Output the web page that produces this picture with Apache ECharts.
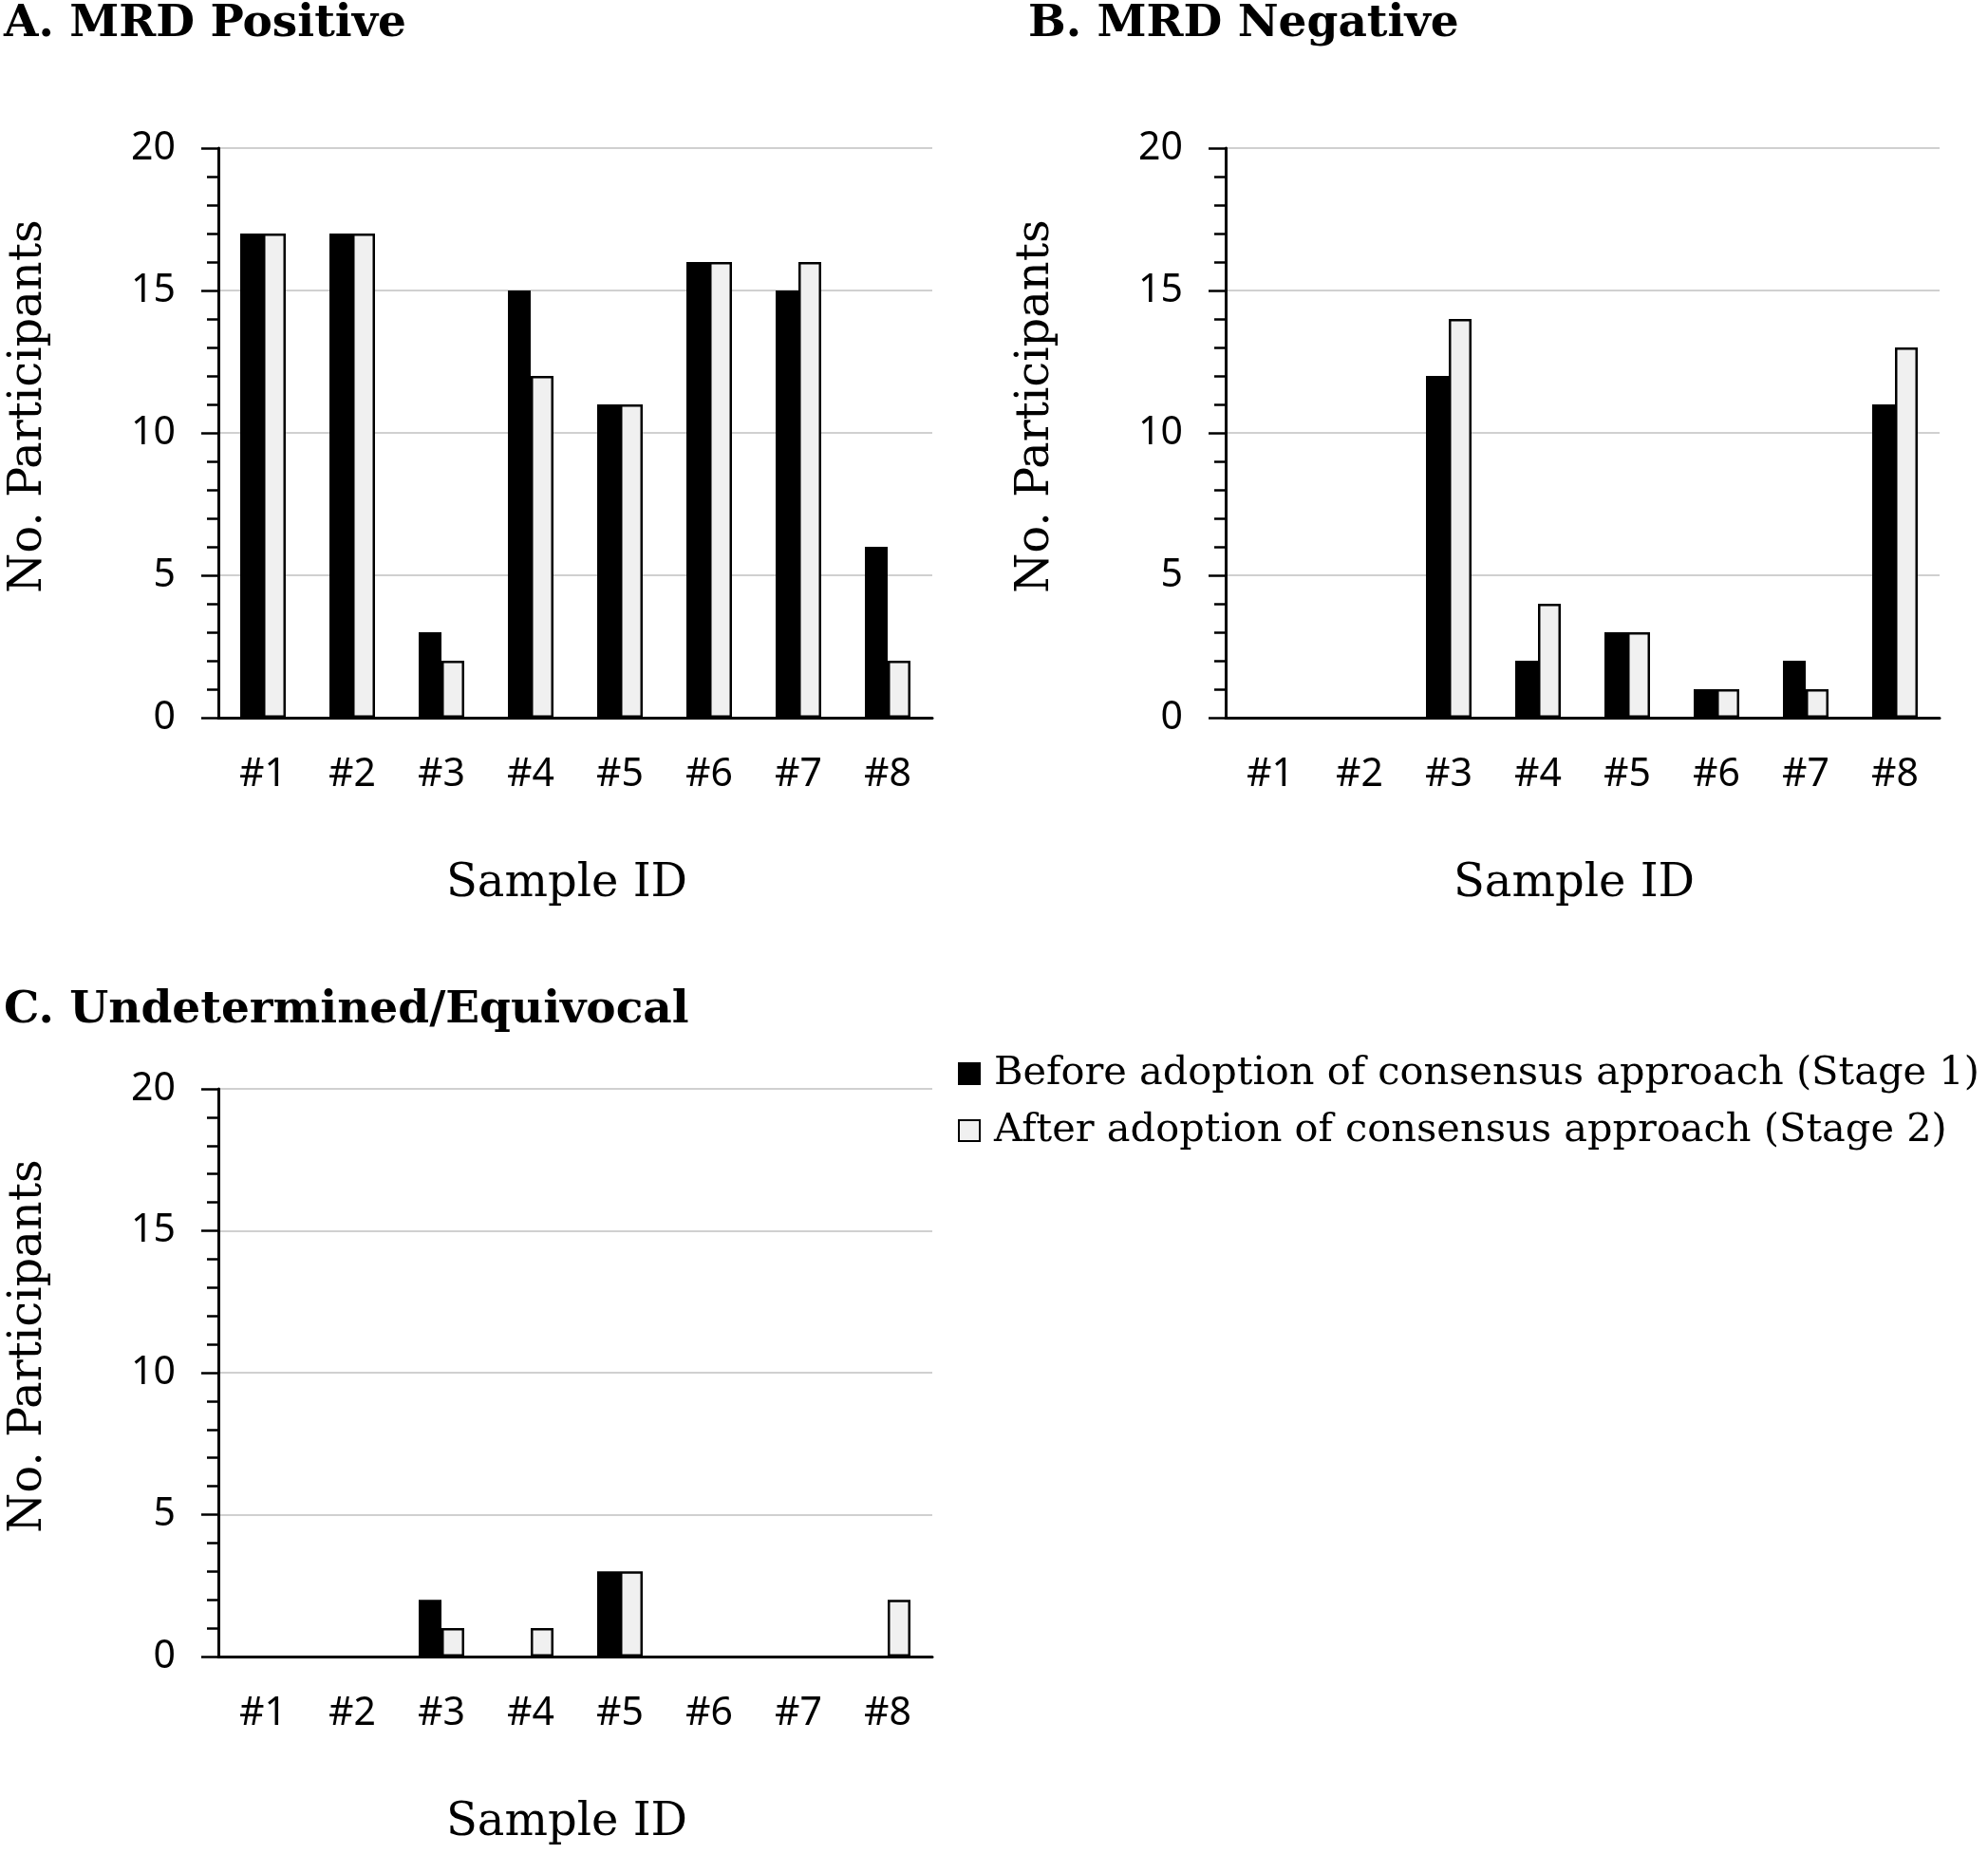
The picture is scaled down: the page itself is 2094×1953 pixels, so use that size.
<!DOCTYPE html>
<html>
<head>
<meta charset="utf-8">
<script src="https://cdn.jsdelivr.net/npm/echarts@6/dist/echarts.min.js"></script>
<style>html,body{margin:0;padding:0;background:#fff;}#chart{width:2094px;height:1953px;}</style>
</head>
<body>
<div id="chart"></div>
<script>
const categories = ['#1', '#2', '#3', '#4', '#5', '#6', '#7', '#8'];
const seriesNames = ['Before adoption of consensus approach (Stage 1)', 'After adoption of consensus approach (Stage 2)'];
const panelTitles = ['A. MRD Positive', 'B. MRD Negative', 'C. Undetermined/Equivocal'];
const yTicks = [0, 5, 10, 15, 20];
const positiveStage1 = [17, 17, 3, 15, 11, 16, 15, 6];
const positiveStage2 = [17, 17, 2, 12, 11, 16, 16, 2];
const negativeStage1 = [0, 0, 12, 2, 3, 1, 2, 11];
const negativeStage2 = [0, 0, 14, 4, 3, 1, 1, 13];
const undeterminedStage1 = [0, 0, 2, 0, 3, 0, 0, 0];
const undeterminedStage2 = [0, 0, 1, 1, 3, 0, 0, 2];

const panelData = [
  [positiveStage1, positiveStage2],
  [negativeStage1, negativeStage2],
  [undeterminedStage1, undeterminedStage2]
];

const SERIF = '"DejaVu Serif", "Liberation Serif", serif';
const SANS = '"Noto Sans", "Open Sans", sans-serif';

const grids = [
  { left: 230, top: 156, width: 752, height: 600 },
  { left: 1291, top: 156, width: 752, height: 600 },
  { left: 230, top: 1147, width: 752, height: 598 }
];

const titlePos = [
  { left: 4, top: 2 },
  { left: 1083, top: 2 },
  { left: 4, top: 1041 }
];

// hide the outline of zero-height bars (nothing is drawn there in the reference)
function toBarData(arr) {
  return arr.map(v => v === 0 ? { value: v, itemStyle: { borderWidth: 0, opacity: 0 } } : v);
}

const option = {
  backgroundColor: '#ffffff',
  animation: false,
  title: panelTitles.map((t, i) => ({
    text: t,
    left: titlePos[i].left,
    top: titlePos[i].top,
    padding: 0,
    textStyle: { fontFamily: SERIF, fontWeight: 'bold', fontSize: 47, color: '#000' }
  })),
  legend: {
    orient: 'vertical',
    left: 1009,
    top: 1109,
    icon: 'rect',
    itemWidth: 22,
    itemHeight: 22,
    itemGap: 16,
    padding: 0,
    data: seriesNames,
    textStyle: { fontFamily: SERIF, fontSize: 41.5, color: '#000', lineHeight: 44, padding: [0, 0, 0, 10] }
  },
  grid: grids.map(g => Object.assign({ outerBoundsMode: 'none', containLabel: false }, g)),
  xAxis: grids.map((g, i) => ({
    type: 'category',
    gridIndex: i,
    data: categories,
    name: 'Sample ID',
    nameLocation: 'middle',
    nameGap: 152,
    nameTextStyle: { fontFamily: SERIF, fontSize: 48, color: '#000', padding: [0, 18, 0, 0] },
    axisLine: { show: true, lineStyle: { color: '#000', width: 3 } },
    axisTick: { show: false },
    axisLabel: { margin: 40, fontFamily: SANS, fontSize: 41, color: '#000' },
    splitLine: { show: false }
  })),
  yAxis: grids.map((g, i) => ({
    type: 'value',
    gridIndex: i,
    min: yTicks[0],
    max: yTicks[yTicks.length - 1],
    interval: 5,
    name: 'No. Participants',
    nameLocation: 'middle',
    nameGap: 175,
    nameTextStyle: { fontFamily: SERIF, fontSize: 48, color: '#000', padding: [0, 0, 0, 56] },
    axisLine: { show: true, lineStyle: { color: '#000', width: 3 } },
    axisTick: { show: true, length: 18, lineStyle: { color: '#000', width: 2.5 } },
    minorTick: { show: true, splitNumber: 5, length: 12, lineStyle: { color: '#000', width: 2.5 } },
    axisLabel: { margin: 45, fontFamily: SANS, fontSize: 41, color: '#000' },
    splitLine: { show: true, lineStyle: { color: '#d0d0d0', width: 2 } }
  })),
  series: []
};

panelData.forEach((pair, i) => {
  option.series.push({
    name: seriesNames[0],
    type: 'bar',
    xAxisIndex: i,
    yAxisIndex: i,
    data: toBarData(pair[0]),
    barWidth: 24,
    barGap: '0%',
    itemStyle: { color: '#000000', borderColor: '#000000', borderWidth: 2 }
  });
  option.series.push({
    name: seriesNames[1],
    type: 'bar',
    xAxisIndex: i,
    yAxisIndex: i,
    data: toBarData(pair[1]),
    barWidth: 24,
    barGap: '0%',
    itemStyle: { color: '#f0f0f0', borderColor: '#000000', borderWidth: 2.5 }
  });
});

const chart = echarts.init(document.getElementById('chart'), null, { renderer: 'canvas' });
chart.setOption(option);
</script>
</body>
</html>
